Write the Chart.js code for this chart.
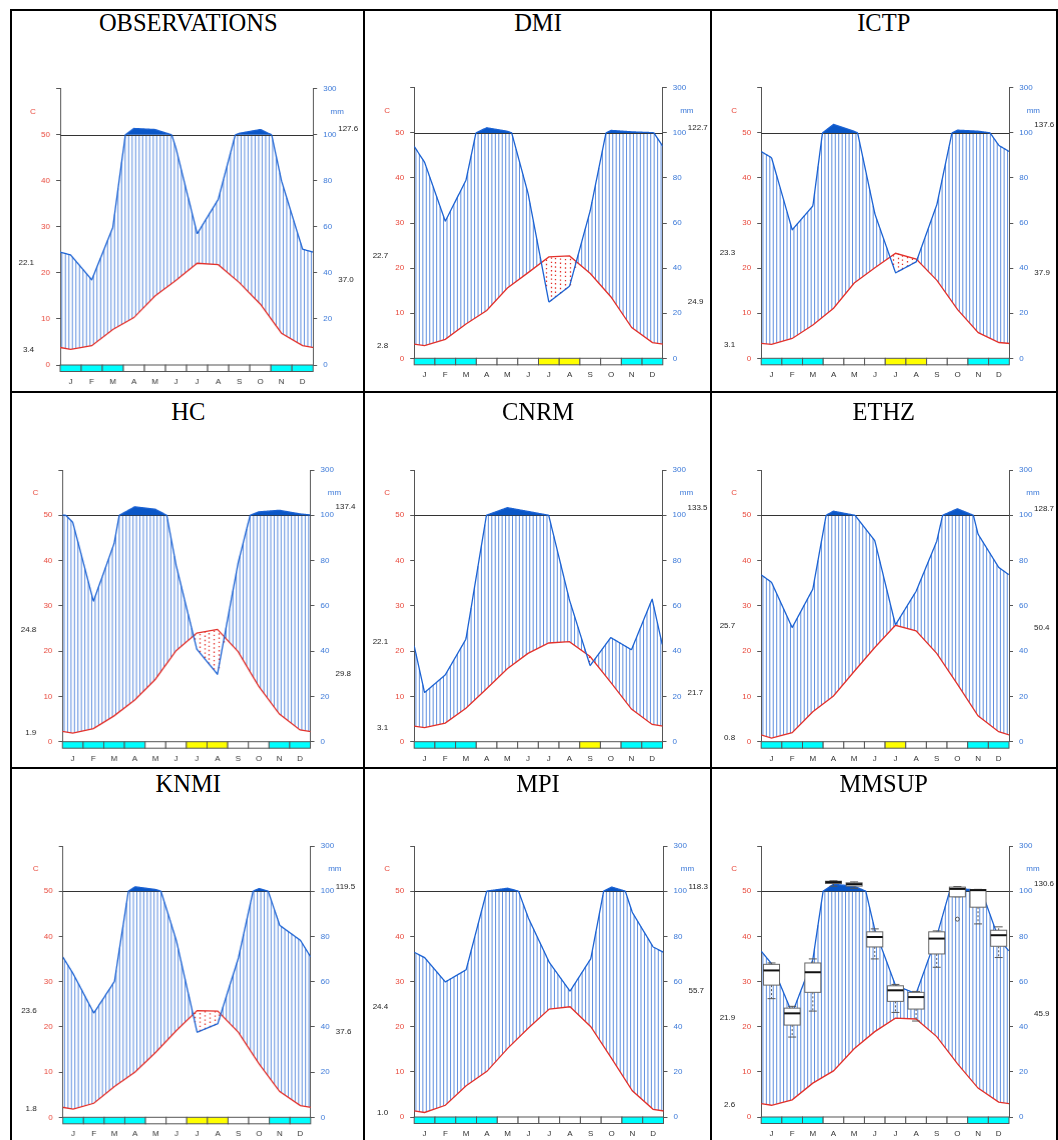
<!DOCTYPE html>
<html>
<head>
<meta charset="utf-8">
<script src="https://cdn.jsdelivr.net/npm/chart.js@4.4.1/dist/chart.umd.min.js"></script>
<style>
  body { margin: 0; background: #fff; }
  #page { position: relative; width: 1058px; height: 1140px; overflow: hidden; background: #fff; }
  canvas { position: absolute; }
  .title { position: absolute; height: 28px; line-height: 28px; text-align: center;
           font-family: 'Liberation Serif', 'Times New Roman', serif; font-size: 24.5px; color: #000; }
  .rule { position: absolute; background: #000; z-index: 5; }
</style>
</head>
<body>
<div id="page"></div>
<script>
// month letters and axis tick labels
const months = ['J', 'F', 'M', 'A', 'M', 'J', 'J', 'A', 'S', 'O', 'N', 'D'];
const leftTicks = [0, 10, 20, 30, 40, 50, 60];
const rightTickLabels = ['0', '20', '40', '60', '80', '100', '300'];

// monthly mean temperature (C) and precipitation (mm)
// month bar: 0 = white, 1 = cyan, 2 = yellow
const obsTemp = [3.4, 4.2, 7.7, 10.3, 15.0, 18.4, 22.1, 21.8, 17.9, 13.2, 6.9, 4.2];
const obsPrecip = [47.8, 37.0, 59.8, 127.6, 123, 94, 57, 72, 106.6, 123, 80, 50.3];
const obsBar = [1, 1, 1, 0, 0, 0, 0, 0, 0, 0, 1, 1];

const dmiTemp = [2.8, 4.2, 7.6, 10.6, 15.6, 19.0, 22.5, 22.7, 18.8, 13.6, 6.8, 3.5];
const dmiPrecip = [87, 60.8, 79, 122.7, 107, 73, 24.9, 32, 65.6, 111, 104.5, 101];
const dmiBar = [1, 1, 1, 0, 0, 0, 2, 2, 0, 0, 1, 1];

const ictpTemp = [3.1, 4.4, 7.4, 11.1, 16.7, 20.1, 23.3, 22.0, 17.3, 10.8, 5.7, 3.5];
const ictpPrecip = [89, 57, 67.6, 137.6, 107, 64, 37.9, 42.8, 68.3, 112, 107.4, 94.4];
const ictpBar = [1, 1, 1, 0, 0, 0, 2, 2, 0, 0, 1, 1];

const hcTemp = [1.9, 2.9, 5.7, 9.2, 13.8, 20.1, 24.0, 24.8, 19.9, 12.2, 6.1, 2.6];
const hcPrecip = [96.9, 62, 87.5, 137.4, 126.5, 78, 40.9, 29.8, 78.9, 115, 122, 106];
const hcBar = [1, 1, 1, 1, 0, 0, 2, 2, 0, 0, 1, 1];

const cnrmTemp = [3.1, 4.1, 7.4, 11.7, 16.1, 19.5, 21.8, 22.1, 18.8, 13.1, 7.2, 3.8];
const cnrmPrecip = [21.7, 29.5, 45.3, 100.5, 133.5, 117, 100, 62.7, 33.6, 46, 40.6, 63];
const cnrmBar = [1, 1, 1, 0, 0, 0, 0, 0, 2, 0, 1, 1];

const ethzTemp = [0.8, 2.0, 6.6, 10.1, 15.5, 20.8, 25.7, 24.5, 19.5, 12.7, 5.7, 2.2];
const ethzPrecip = [70.4, 50.4, 67.4, 118, 100.5, 88.8, 51.6, 66.4, 88.5, 128.7, 91.7, 77];
const ethzBar = [1, 1, 1, 0, 0, 0, 2, 0, 0, 0, 1, 1];

const knmiTemp = [1.8, 3.1, 6.8, 10.0, 14.4, 19.2, 23.6, 23.5, 18.8, 11.8, 5.7, 2.6];
const knmiPrecip = [63.5, 46.1, 60.1, 119.5, 107.4, 78, 37.6, 41.4, 70.5, 112, 84.9, 78.3];
const knmiBar = [1, 1, 1, 1, 0, 0, 2, 2, 0, 0, 1, 1];

const mpiTemp = [1.0, 2.6, 6.9, 10.1, 15.2, 19.7, 23.9, 24.4, 20.0, 13.0, 5.8, 1.7];
const mpiPrecip = [70.6, 59.8, 65.2, 100.3, 113, 88, 68.5, 55.7, 70.1, 118.3, 90.6, 75.3];
const mpiBar = [1, 1, 1, 1, 0, 0, 0, 0, 0, 0, 1, 1];

const mmsupTemp = [2.6, 3.8, 7.5, 10.2, 15.1, 18.9, 21.9, 21.7, 17.8, 11.8, 6.4, 3.3];
const mmsupPrecip = [67.9, 45.9, 69.7, 130.6, 122, 83, 58.3, 54.6, 80, 112, 104.4, 79];
const mmsupBar = [1, 1, 1, 0, 0, 0, 0, 0, 0, 0, 1, 1];

// ensemble spread of monthly precipitation (mm) for the MMSUP panel
const mmsupMin = [52.4, 35.4, 46.9, 122, 113, 70, 46.3, 42.5, 66.3, 97.5, 85.5, 70.6];
const mmsupQ1 = [58.4, 40.7, 55.2, 134, 122.5, 75.3, 51.2, 47.8, 72.2, 97.5, 92.9, 75.6];
const mmsupMed = [64.9, 45.9, 64.1, 140, 131, 79.7, 56.1, 53.1, 79, 110, 104.4, 80.5];
const mmsupQ3 = [67.6, 48.2, 68.2, 144, 137, 82, 58.1, 55.2, 82, 118, 107.4, 82.7];
const mmsupMax = [68.2, 49.0, 70.0, 146, 141, 83.3, 58.7, 55.6, 82.4, 120.6, 108, 84.2];
const mmsupOutMonth = [9];
const mmsupOutValue = [87.6];

// styles
const RED = '#e3302a';
const RED_TXT = '#e8473a';
const BLUE = '#1b62d3';
const BLUE_TXT = '#3a78d8';
const DARKBLUE = '#0a57c8';
const HATCH = '#2a6ad4';
const AXIS = '#555';
const BAR_COLORS = ['#ffffff', '#00ffff', '#ffff00'];
Chart.defaults.font.family = "'Liberation Sans', Arial, sans-serif";
Chart.defaults.font.size = 8;

// page layout: cell borders and plot rectangles (left, right, top, bottom)
const cols = [12, 364.5, 711.5, 1056];
const rows = [10.5, 393, 769, 1140];
const titleMid = [23, 412, 784];

const panels = [
  { name: 'OBSERVATIONS', temp: obsTemp, precip: obsPrecip, bar: obsBar, plot: [60, 312.7, 88.3, 365] },
  { name: 'DMI', temp: dmiTemp, precip: dmiPrecip, bar: dmiBar, plot: [413.7, 662.3, 87.3, 358.3] },
  { name: 'ICTP', temp: ictpTemp, precip: ictpPrecip, bar: ictpBar, plot: [760.7, 1009.3, 87.3, 358.3] },
  { name: 'HC', temp: hcTemp, precip: hcPrecip, bar: hcBar, plot: [62.3, 310, 470, 741.7] },
  { name: 'CNRM', temp: cnrmTemp, precip: cnrmPrecip, bar: cnrmBar, plot: [413.7, 662, 470, 741.7] },
  { name: 'ETHZ', temp: ethzTemp, precip: ethzPrecip, bar: ethzBar, plot: [760.7, 1009, 470, 741.7] },
  { name: 'KNMI', temp: knmiTemp, precip: knmiPrecip, bar: knmiBar, plot: [62.7, 310.3, 846, 1117.3] },
  { name: 'MPI', temp: mpiTemp, precip: mpiPrecip, bar: mpiBar, plot: [413.7, 663, 846, 1117] },
  { name: 'MMSUP', temp: mmsupTemp, precip: mmsupPrecip, bar: mmsupBar, plot: [760.7, 1009, 846, 1117],
    boxes: { min: mmsupMin, q1: mmsupQ1, med: mmsupMed, q3: mmsupQ3, max: mmsupMax, outMonth: mmsupOutMonth, outValue: mmsupOutValue } }
];

// precipitation drawn on the temperature scale: 20 mm = 10 C, reduced 1/10 above 100 mm
function conv(p) { return p <= 100 ? p / 2 : 50 + (p - 100) / 20; }
// december before january and january after december, so the curves wrap round
function wrap(v) { return [v[11]].concat(v, [v[0]]); }
function valueAt(v, x) {
  const w = wrap(v);
  const u = x + 0.5;
  let i = Math.floor(u);
  if (i > 12) i = 12;
  if (i < 0) i = 0;
  return w[i] + (w[i + 1] - w[i]) * (u - i);
}

function walterPlugin(panel) {
  return {
    id: 'walter',
    beforeDatasetsDraw(chart) {
      const { ctx, chartArea: a, scales: { x, y } } = chart;
      ctx.save();
      ctx.beginPath();
      ctx.rect(a.left, a.top, a.right - a.left, a.bottom - a.top);
      ctx.clip();

      // humid months: vertical blue hatching between temperature and precipitation
      ctx.strokeStyle = HATCH;
      ctx.lineWidth = 0.75;
      ctx.beginPath();
      const hstep = (a.right - a.left) / 72;
      for (let px = a.left + hstep / 2; px < a.right; px += hstep) {
        const xv = x.getValueForPixel(px);
        const pv = conv(valueAt(panel.precip, xv));
        const tv = valueAt(panel.temp, xv);
        if (pv > tv) {
          ctx.moveTo(px, y.getPixelForValue(tv));
          ctx.lineTo(px, y.getPixelForValue(Math.min(pv, 50)));
        }
      }
      ctx.stroke();

      // dry months: red dotted area
      ctx.strokeStyle = RED;
      ctx.lineWidth = 1.3;
      ctx.setLineDash([1.4, 2.8]);
      ctx.beginPath();
      for (let px = a.left + 2; px < a.right; px += 4.8) {
        const xv = x.getValueForPixel(px);
        const pv = conv(valueAt(panel.precip, xv));
        const tv = valueAt(panel.temp, xv);
        if (tv > pv) {
          ctx.moveTo(Math.round(px) + 0.5, y.getPixelForValue(pv));
          ctx.lineTo(Math.round(px) + 0.5, y.getPixelForValue(tv));
        }
      }
      ctx.stroke();
      ctx.setLineDash([]);

      // 100 mm reference line
      const y50 = y.getPixelForValue(50);
      ctx.strokeStyle = '#333';
      ctx.lineWidth = 1;
      ctx.beginPath();
      ctx.moveTo(a.left, Math.round(y50) + 0.5);
      ctx.lineTo(a.right, Math.round(y50) + 0.5);
      ctx.stroke();

      // solid fill above 100 mm
      ctx.fillStyle = DARKBLUE;
      ctx.beginPath();
      let open = false;
      for (let px = a.left; px <= a.right + 0.01; px += 0.5) {
        const pv = conv(valueAt(panel.precip, x.getValueForPixel(px)));
        if (pv > 50) {
          if (!open) { ctx.moveTo(px, y50); open = true; }
          ctx.lineTo(px, y.getPixelForValue(pv));
        } else if (open) {
          ctx.lineTo(px, y50);
          ctx.closePath();
          open = false;
        }
      }
      if (open) { ctx.lineTo(a.right, y50); ctx.closePath(); }
      ctx.fill();
      ctx.restore();
    },
    afterDatasetsDraw(chart) {
      const { ctx, chartArea: a, scales: { x, y } } = chart;
      ctx.save();
      ctx.beginPath();
      ctx.rect(a.left, a.top - 2, a.right - a.left, a.bottom - a.top + 2);
      ctx.clip();
      // precipitation curve
      ctx.strokeStyle = BLUE;
      ctx.lineWidth = 1.3;
      ctx.lineJoin = 'round';
      ctx.beginPath();
      for (let px = a.left; px <= a.right + 0.01; px += 0.5) {
        const py = y.getPixelForValue(conv(valueAt(panel.precip, x.getValueForPixel(px))));
        if (px === a.left) ctx.moveTo(px, py); else ctx.lineTo(px, py);
      }
      ctx.stroke();
      ctx.restore();

      // box plots of the ensemble
      if (panel.boxes) {
        const b = panel.boxes;
        ctx.save();
        ctx.lineWidth = 1;
        for (let i = 0; i < 12; i++) {
          const cx = x.getPixelForValue(i + 0.5);
          const yMin = y.getPixelForValue(conv(b.min[i]));
          const yQ1 = y.getPixelForValue(conv(b.q1[i]));
          const yMed = y.getPixelForValue(conv(b.med[i]));
          const yQ3 = y.getPixelForValue(conv(b.q3[i]));
          const yMax = y.getPixelForValue(conv(b.max[i]));
          ctx.strokeStyle = '#555';
          ctx.setLineDash([2, 2]);
          ctx.beginPath();
          ctx.moveTo(cx, yQ3); ctx.lineTo(cx, yMax);
          ctx.moveTo(cx, yQ1); ctx.lineTo(cx, yMin);
          ctx.stroke();
          ctx.setLineDash([]);
          ctx.beginPath();
          ctx.moveTo(cx - 4, yMax); ctx.lineTo(cx + 4, yMax);
          ctx.moveTo(cx - 4, yMin); ctx.lineTo(cx + 4, yMin);
          ctx.stroke();
          ctx.fillStyle = '#fff';
          ctx.fillRect(cx - 8, yQ3, 16, yQ1 - yQ3);
          ctx.strokeStyle = '#666';
          ctx.strokeRect(cx - 8, yQ3, 16, yQ1 - yQ3);
          ctx.strokeStyle = '#111';
          ctx.lineWidth = 2;
          ctx.beginPath();
          ctx.moveTo(cx - 8, yMed); ctx.lineTo(cx + 8, yMed);
          ctx.stroke();
          ctx.lineWidth = 1;
        }
        ctx.strokeStyle = '#555';
        b.outMonth.forEach((m, k) => {
          ctx.beginPath();
          ctx.arc(x.getPixelForValue(m + 0.5), y.getPixelForValue(conv(b.outValue[k])), 2, 0, Math.PI * 2);
          ctx.stroke();
        });
        ctx.restore();
      }
    },
    afterDraw(chart) {
      const { ctx, chartArea: a, scales: { x, y } } = chart;
      ctx.save();
      // month bar under the plot
      for (let i = 0; i < 12; i++) {
        const x0 = x.getPixelForValue(i);
        const x1 = x.getPixelForValue(i + 1);
        ctx.fillStyle = BAR_COLORS[panel.bar[i]];
        ctx.fillRect(x0, a.bottom, x1 - x0, 6.5);
        ctx.strokeStyle = AXIS;
        ctx.lineWidth = 1;
        ctx.strokeRect(x0, a.bottom, x1 - x0, 6.5);
      }
      // extreme values
      const maxT = Math.max(...panel.temp), minT = Math.min(...panel.temp);
      const maxP = Math.max(...panel.precip), minP = Math.min(...panel.precip);
      ctx.font = "8px 'Liberation Sans', Arial, sans-serif";
      ctx.fillStyle = '#222';
      ctx.textBaseline = 'middle';
      ctx.textAlign = 'right';
      ctx.fillText(maxT.toFixed(1), a.left - 26, y.getPixelForValue(maxT));
      ctx.fillText(minT.toFixed(1), a.left - 26, y.getPixelForValue(minT));
      ctx.textAlign = 'left';
      ctx.fillText(maxP.toFixed(1), a.right + 25, y.getPixelForValue(conv(maxP)));
      ctx.fillText(minP.toFixed(1), a.right + 25, y.getPixelForValue(conv(minP)));
      // units
      ctx.textAlign = 'center';
      ctx.fillStyle = RED_TXT;
      ctx.fillText('C', a.left - 27, y.getPixelForValue(55));
      ctx.fillStyle = BLUE_TXT;
      ctx.fillText('mm', a.right + 24, y.getPixelForValue(55));
      ctx.restore();
    }
  };
}

const page = document.getElementById('page');

// table rules
function rule(x, y, w, h) {
  const d = document.createElement('div');
  d.className = 'rule';
  Object.assign(d.style, { left: x + 'px', top: y + 'px', width: w + 'px', height: h + 'px' });
  page.appendChild(d);
}
rule(10, 8.5, 1048, 2);
rule(10, 391, 1048, 2);
rule(10, 767, 1048, 2);
rule(10, 8.5, 2, 1132);
rule(362.5, 8.5, 2, 1132);
rule(709.5, 8.5, 2, 1132);
rule(1056, 8.5, 2, 1132);

panels.forEach((panel, idx) => {
  const c = idx % 3, r = Math.floor(idx / 3);
  const cellL = cols[c] - 1, cellR = cols[c + 1] + 1;
  const cellT = rows[r], cellB = rows[r + 1];

  const title = document.createElement('div');
  title.className = 'title';
  title.textContent = panel.name;
  Object.assign(title.style, { left: cellL + 'px', width: (cellR - cellL) + 'px', top: (titleMid[r] - 14) + 'px' });
  page.appendChild(title);

  const cvL = cellL, cvT = cellT + 40;
  const cvW = cellR - cellL, cvH = cellB - cvT;
  const canvas = document.createElement('canvas');
  canvas.width = cvW;
  canvas.height = cvH;
  Object.assign(canvas.style, { left: cvL + 'px', top: cvT + 'px', width: cvW + 'px', height: cvH + 'px' });
  page.appendChild(canvas);

  const [L, R, T, B] = panel.plot;
  const axisW = 36, axisH = 22;

  new Chart(canvas, {
    type: 'line',
    data: {
      datasets: [{
        label: 'Temperature',
        data: wrap(panel.temp).map((v, i) => ({ x: i - 0.5, y: v })),
        borderColor: RED,
        borderWidth: 1.3,
        pointRadius: 0,
        tension: 0,
        clip: 0,
        yAxisID: 'y'
      }]
    },
    options: {
      responsive: false,
      animation: false,
      devicePixelRatio: 1,
      layout: {
        padding: {
          left: L - cvL - axisW,
          right: cvL + cvW - R - axisW,
          top: T - cvT,
          bottom: Math.max(0, cvT + cvH - B - axisH)
        }
      },
      plugins: { legend: { display: false }, tooltip: { enabled: false } },
      scales: {
        x: {
          type: 'linear', min: 0, max: 12,
          afterBuildTicks: s => { s.ticks = months.map((m, i) => ({ value: i + 0.5 })); },
          afterFit: s => { s.height = axisH; },
          ticks: { callback: (v, i) => months[i], autoSkip: false, maxRotation: 0, padding: 12, color: '#333', font: { size: 8 } },
          grid: { display: false, drawTicks: false },
          border: { display: false }
        },
        y: {
          position: 'left', min: 0, max: 60,
          afterBuildTicks: s => { s.ticks = leftTicks.map(v => ({ value: v })); },
          afterFit: s => { s.width = axisW; },
          ticks: { callback: v => (v === 60 ? '' : String(v)), color: RED_TXT, padding: 6, font: { size: 8 } },
          grid: { drawOnChartArea: false, drawTicks: true, tickLength: 4, color: AXIS },
          border: { display: true, color: AXIS }
        },
        y2: {
          position: 'right', min: 0, max: 60,
          afterBuildTicks: s => { s.ticks = leftTicks.map(v => ({ value: v })); },
          afterFit: s => { s.width = axisW; },
          ticks: { callback: (v, i) => rightTickLabels[i], color: BLUE_TXT, padding: 6, font: { size: 8 } },
          grid: { drawOnChartArea: false, drawTicks: true, tickLength: 4, color: AXIS },
          border: { display: true, color: AXIS }
        }
      }
    },
    plugins: [walterPlugin(panel)]
  });
});
</script>
</body>
</html>
